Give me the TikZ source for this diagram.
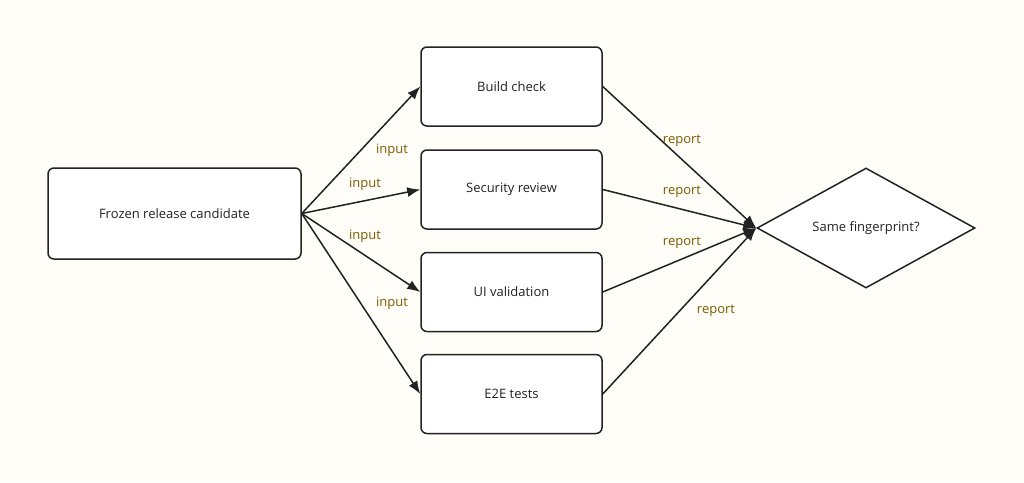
\documentclass[tikz,border=0pt]{standalone}
\usepackage{fontspec}
\setmainfont{Open Sans}
\usetikzlibrary{shapes.geometric,arrows.meta}
\definecolor{paper}{HTML}{FFFDF7}
\definecolor{ink}{HTML}{222222}
\definecolor{lblc}{HTML}{7A5C00}
\tikzset{
  box/.style={draw=ink,fill=white,line width=1.5pt,rounded corners=6pt,minimum width=181pt,minimum height=79pt,font=\fontsize{13}{15}\selectfont,text=ink},
  flow/.style={draw=ink,line width=1.5pt,-{Latex[length=13pt,width=10pt]}},
  lbl/.style={text=lblc,font=\fontsize{13}{15}\selectfont}
}
\begin{document}
\begin{tikzpicture}[x=1pt,y=-1pt]
  \fill[paper] (0,0) rectangle (1024,482);
  \useasboundingbox (0,0) rectangle (1024,482);
  \node[box,minimum width=253pt,minimum height=91pt] (frozen) at (174.5,213.5) {Frozen release candidate};
  \node[box] (build) at (511.5,86.5) {Build check};
  \node[box] (sec) at (511.5,189.5) {Security review};
  \node[box] (ui) at (511.5,292) {UI validation};
  \node[box] (e2e) at (511.5,394) {E2E tests};
  \node[diamond,draw=ink,fill=white,line width=1.5pt,aspect=1.8,minimum width=218pt,minimum height=120pt,inner sep=0pt,font=\fontsize{13}{15}\selectfont,text=ink] (same) at (866,228) {Same fingerprint?};
  \draw[flow] (frozen.east) -- (build.west);
  \draw[flow] (frozen.east) -- (sec.west);
  \draw[flow] (frozen.east) -- (ui.west);
  \draw[flow] (frozen.east) -- (e2e.west);
  \draw[flow] (build.east) -- (same.west);
  \draw[flow] (sec.east) -- (same.west);
  \draw[flow] (ui.east) -- (same.west);
  \draw[flow] (e2e.east) -- (same.west);
  \node[lbl] (in1) at (392,150) {input};
  \node[lbl] (in2) at (365,184) {input};
  \node[lbl] (in3) at (365,236) {input};
  \node[lbl] (in4) at (392,303) {input};
  \node[lbl] (rp1) at (682,141) {report};
  \node[lbl] (rp2) at (682,192) {report};
  \node[lbl] (rp3) at (682,243) {report};
  \node[lbl] (rp4) at (716,311) {report};
\end{tikzpicture}
\end{document}
